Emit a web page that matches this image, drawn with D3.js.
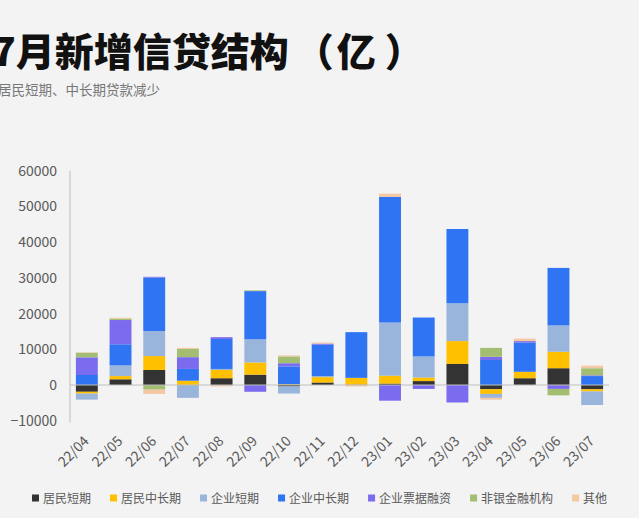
<!DOCTYPE html>
<html>
<head>
<meta charset="utf-8">
<script src="https://cdn.jsdelivr.net/npm/d3@7"></script>
<style>
  html, body { margin: 0; padding: 0; background: #f3f3f3; overflow: hidden; }
  svg { display: block; font-family: "Noto Sans CJK SC", "Noto Sans", sans-serif; }
</style>
</head>
<body>
<svg id="chart" width="639" height="518"></svg>
<script>
const categories = ["22/04","22/05","22/06","22/07","22/08","22/09","22/10","22/11","22/12","23/01","23/02","23/03","23/04","23/05","23/06","23/07"];
const seriesNames = ["居民短期","居民中长期","企业短期","企业中长期","企业票据融资","非银金融机构","其他"];
const hhShort   = [-1900, 1600, 4200, -100, 1900, 2900, -400, 700, 100, 400, 1100, 5900, -1200, 1900, 4700, -1200];
const hhLong    = [-500, 900, 3900, 1200, 2300, 3400, 200, 1500, 1900, 2200, 1000, 6400, -1300, 1800, 4600, -600];
const corpShort = [-1700, 3000, 7000, -3500, 300, 6500, -2000, 300, 0, 14900, 5900, 10600, -1100, 0, 7400, -3800];
const corpLong  = [2800, 5900, 15000, 3300, 8400, 13500, 5000, 8800, 12800, 35200, 10900, 20800, 7000, 8200, 16100, 2500];
const bill      = [4950, 6800, 200, 3300, 500, -1900, 900, 300, 0, -4400, -1100, -4900, 900, 400, -1100, 200];
const nonBank   = [1300, 400, -1300, 2300, 0, 200, 1900, 0, 0, 0, 0, 0, 2500, 0, -1800, 2000];
const other     = [100, 250, -1200, 300, -400, 0, 300, 300, -400, 900, 0, 0, -500, 700, 0, 700];
const yTicks = [-10000, 0, 10000, 20000, 30000, 40000, 50000, 60000];
const titleMain = "7月新增信贷结构";
const titleUnit = ["（", "亿", "）"];
const subtitle = "居民短期、中长期贷款减少";

const colors = ["#333333", "#ffc000", "#9ab5db", "#2f74f2", "#7b6bef", "#a3be72", "#f5c7a3"];
const seriesValues = [hhShort, hhLong, corpShort, corpLong, bill, nonBank, other];

const table = categories.map((c, i) => {
  const row = { cat: c };
  seriesNames.forEach((s, j) => row[s] = seriesValues[j][i]);
  return row;
});

const svg = d3.select("#chart");

const tt = svg.append("text").attr("x", -8).attr("y", 66)
  .attr("font-size", 39).attr("font-weight", 900).attr("fill", "#111");
tt.append("tspan").text(titleMain);
tt.append("tspan").attr("dx", 6).text(titleUnit[0]);
tt.append("tspan").attr("dx", 3).text(titleUnit[1]);
tt.append("tspan").attr("dx", 9).text(titleUnit[2]);

svg.append("text").attr("x", -2).attr("y", 95)
  .attr("font-size", 13.5).attr("fill", "#777")
  .text(subtitle);

const x = d3.scaleBand().domain(categories).range([70, 609]).paddingInner(0.35).paddingOuter(0.175);
const y = d3.scaleLinear().domain([-10000, 60000]).range([420.7, 170.8]);

const stack = d3.stack().keys(seriesNames).offset(d3.stackOffsetDiverging);
const layers = stack(table);

svg.append("g").selectAll("g").data(layers).join("g")
  .attr("fill", (d, i) => colors[i])
  .selectAll("rect").data(d => d).join("rect")
  .attr("x", d => x(d.data.cat))
  .attr("width", x.bandwidth())
  .attr("y", d => y(Math.max(d[0], d[1])))
  .attr("height", d => Math.abs(y(d[0]) - y(d[1])));

// zero line
svg.append("line").attr("x1", 70).attr("x2", 609).attr("y1", y(0)).attr("y2", y(0))
  .attr("stroke", "#bfbfbf").attr("stroke-width", 1);

// y axis
const yAxis = svg.append("g").attr("transform", "translate(70,0)")
  .call(d3.axisLeft(y).tickValues(yTicks).tickSize(0).tickPadding(13).tickFormat(d3.format("d")));
yAxis.select(".domain").attr("stroke", "#bfbfbf").attr("d", `M0,${y(60000)}V${y(-10000)+2}`);
yAxis.selectAll("text").attr("font-size", 14).attr("fill", "#595959")
  .attr("font-family", "\"Noto Sans CJK SC\", sans-serif");

// x axis labels
const xAxis = svg.append("g").attr("transform", "translate(0,442)")
  .call(d3.axisBottom(x).tickSize(0));
xAxis.select(".domain").remove();
xAxis.selectAll("text")
  .attr("x", 0).attr("y", 0).attr("dy", 0)
  .attr("transform", "translate(3,0) rotate(-45)")
  .attr("text-anchor", "end")
  .attr("font-size", 14).attr("fill", "#595959")
  .attr("font-family", "\"Noto Sans CJK SC\", sans-serif");

// legend
const legend = svg.append("g").attr("transform", "translate(0,498)");
let lx = 32;
seriesNames.forEach((s, i) => {
  const g = legend.append("g").attr("transform", `translate(${lx},0)`);
  g.append("rect").attr("x", 0).attr("y", -3.5).attr("width", 7).attr("height", 7).attr("fill", colors[i]);
  const t = g.append("text").attr("x", 11).attr("y", 4.5)
    .attr("font-size", 12).attr("fill", "#595959").text(s);
  lx += 11 + t.node().getComputedTextLength() + 19;
});
</script>
</body>
</html>
